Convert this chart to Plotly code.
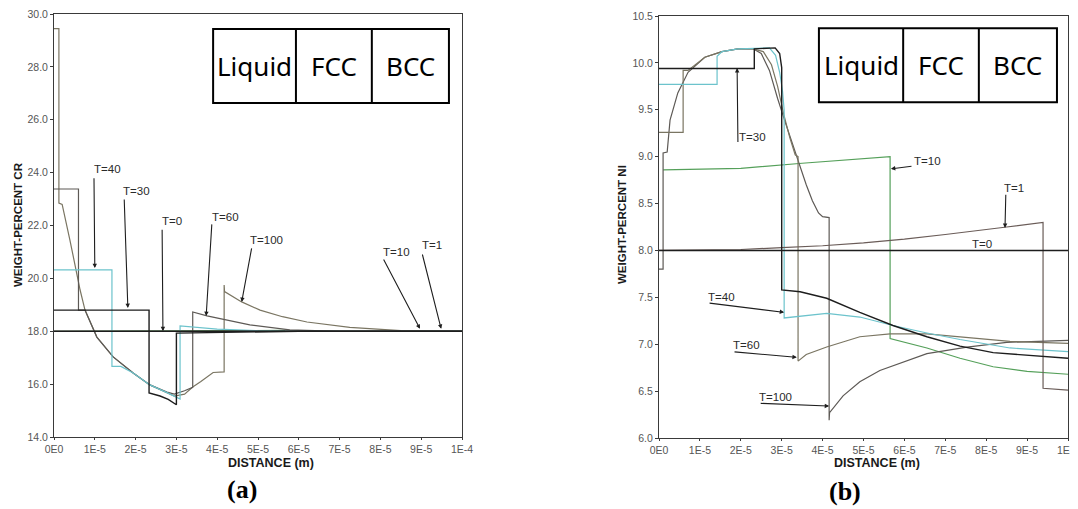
import plotly.graph_objects as go

U = 1e-5  # the distance lists below are in units of 1E-5 m

# ---------------- (a) WEIGHT-PERCENT CR ----------------
cr_t0_x = [0, 10]
cr_t0_y = [18.0, 18.0]
cr_t1_x = [0, 9.39, 9.39, 10]
cr_t1_y = [18.0, 18.02, 18.0, 18.0]
cr_t10_x = [0, 5.65, 5.65, 10]
cr_t10_y = [18.0, 18.03, 18.0, 18.0]
cr_t30_x = [0, 2.33, 2.33, 2.6, 2.8, 3.0, 3.0, 4.0, 5.0, 6.0, 10]
cr_t30_y = [18.8, 18.8, 15.67, 15.55, 15.42, 15.22, 17.93, 17.95, 17.98, 18.0, 18.0]
cr_t40_x = [0, 1.42, 1.42, 1.64, 1.94, 2.35, 2.77, 3.06, 3.09, 3.09, 3.5, 4.0, 5.0, 6.0, 10]
cr_t40_y = [20.32, 20.32, 16.67, 16.67, 16.42, 15.97, 15.68, 15.44, 15.44, 18.2, 18.15, 18.08, 18.02, 18.0, 18.0]
cr_t60_x = [0, 0.6, 0.6, 0.76, 1.05, 1.45, 1.94, 2.35, 2.77, 2.95, 3.2, 3.4, 3.4, 3.75, 4.8, 5.78, 7.0, 10]
cr_t60_y = [23.38, 23.38, 18.8, 18.8, 17.78, 17.03, 16.42, 15.97, 15.7, 15.62, 15.75, 15.88, 18.73, 18.58, 18.24, 18.05, 18.0, 18.0]
cr_t100_x = [0, 0.12, 0.12, 0.2, 0.39, 0.64, 0.76, 1.05, 1.45, 1.94, 2.35, 2.77, 2.95, 3.2, 3.4,
             3.6, 3.9, 4.17, 4.17, 4.18, 4.6, 5.05, 5.6, 6.2, 7.25, 8.5, 10]
cr_t100_y = [29.45, 29.45, 22.85, 22.8, 21.45, 19.56, 18.8, 17.78, 17.03, 16.42, 15.97, 15.68, 15.55, 15.62, 15.89,
             16.1, 16.44, 16.46, 19.75, 19.5, 19.11, 18.8, 18.55, 18.35, 18.15, 18.02, 18.0]

# ---------------- (b) WEIGHT-PERCENT NI ----------------
ni_t0_x = [0, 10]
ni_t0_y = [8.0, 8.0]
ni_t1_x = [0, 2.0, 3.0, 4.0, 5.0, 6.0, 7.0, 8.0, 8.5, 9.39, 9.39, 10]
ni_t1_y = [8.0, 8.01, 8.03, 8.05, 8.08, 8.12, 8.17, 8.22, 8.25, 8.3, 6.53, 6.51]
ni_t10_x = [0.1, 2.0, 3.5, 5.65, 5.65, 6.55, 7.36, 8.17, 9.0, 10]
ni_t10_y = [8.86, 8.875, 8.93, 9.0, 7.06, 6.96, 6.85, 6.76, 6.71, 6.68]
ni_t30_x = [0, 2.33, 2.33, 2.84, 2.95, 3.0, 3.0, 3.45, 4.1, 4.91, 5.72, 6.55, 7.36, 8.17, 10]
ni_t30_y = [9.94, 9.94, 10.15, 10.16, 10.1, 9.95, 7.58, 7.56, 7.49, 7.34, 7.2, 7.08, 6.98, 6.91, 6.85]
ni_t40_x = [0, 1.42, 1.42, 1.54, 1.93, 2.7, 2.85, 2.95, 3.02, 3.06, 3.06, 3.5, 4.1, 4.91, 5.72, 6.55, 7.36, 8.58, 10]
ni_t40_y = [9.77, 9.77, 10.07, 10.12, 10.15, 10.16, 10.08, 9.9, 9.7, 9.5, 7.28, 7.3, 7.33, 7.29, 7.2, 7.12, 7.05, 6.96, 6.92]
ni_t60_x = [0, 0.59, 0.59, 0.71, 1.12, 1.54, 1.93, 2.3, 2.55, 2.75, 2.9, 3.05, 3.2, 3.33, 3.4, 3.4,
            3.6, 4.1, 4.91, 5.65, 6.55, 7.36, 8.58, 10]
ni_t60_y = [9.26, 9.26, 9.92, 9.92, 10.06, 10.12, 10.15, 10.15, 10.12, 9.98, 9.75, 9.45, 9.2, 9.02, 9.0, 6.82,
            6.89, 6.97, 7.08, 7.11, 7.11, 7.08, 7.03, 7.01]
ni_t100_x = [0, 0.1, 0.1, 0.2, 0.27, 0.46, 0.71, 1.12, 1.54, 1.93, 2.3, 2.5, 2.7, 2.9, 3.1, 3.25, 3.4, 3.6,
             3.75, 3.9, 4.0, 4.16, 4.16, 4.17, 4.5, 4.91, 5.4, 5.89, 6.55, 7.53, 8.5, 10]
ni_t100_y = [7.8, 7.8, 9.04, 9.05, 9.39, 9.68, 9.9, 10.06, 10.12, 10.15, 10.15, 10.1, 9.92, 9.62, 9.35, 9.15, 8.95, 8.7,
             8.53, 8.4, 8.36, 8.35, 6.19, 6.27, 6.45, 6.6, 6.72, 6.8, 6.9, 6.97, 7.02, 7.04]

x_tick_vals = [0, 1, 2, 3, 4, 5, 6, 7, 8, 9, 10]
x_tick_text = ["0E0", "1E-5", "2E-5", "3E-5", "4E-5", "5E-5", "6E-5", "7E-5", "8E-5", "9E-5", "1E-4"]
cr_tick_vals = [14, 16, 18, 20, 22, 24, 26, 28, 30]
ni_tick_vals = [6.0, 6.5, 7.0, 7.5, 8.0, 8.5, 9.0, 9.5, 10.0, 10.5]
phase_names = ["Liquid", "FCC", "BCC"]

BLACK = "#1d1d1d"
CYAN = "#6cc3cc"
GRAY60 = "#5d5955"
OLIVE = "#7a7562"
BROWN = "#6a5c58"
GREEN = "#55a05a"

fig = go.Figure()


def add(xs, ys, color, axis, width=1.2):
    fig.add_trace(go.Scatter(
        x=[v * U for v in xs], y=ys, mode="lines",
        line=dict(color=color, width=width),
        xaxis="x" if axis == 1 else "x2", yaxis="y" if axis == 1 else "y2",
        showlegend=False, hoverinfo="skip"))


# panel (a)
add(cr_t10_x, cr_t10_y, GREEN, 1)
add(cr_t100_x, cr_t100_y, OLIVE, 1)
add(cr_t60_x, cr_t60_y, GRAY60, 1)
add(cr_t40_x, cr_t40_y, CYAN, 1)
add(cr_t1_x, cr_t1_y, BROWN, 1)
add(cr_t30_x, cr_t30_y, BLACK, 1, 1.4)
add(cr_t0_x, cr_t0_y, BLACK, 1, 1.4)
# panel (b)
add(ni_t10_x, ni_t10_y, GREEN, 2)
add(ni_t100_x, ni_t100_y, GRAY60, 2)
add(ni_t60_x, ni_t60_y, OLIVE, 2)
add(ni_t40_x, ni_t40_y, CYAN, 2)
add(ni_t1_x, ni_t1_y, BROWN, 2)
add(ni_t30_x, ni_t30_y, BLACK, 2, 1.4)
add(ni_t0_x, ni_t0_y, BLACK, 2, 1.4)

# the page body has an 8px margin, so the figure is drawn 8px in from the window edge
OFF = 8
W, H = 1078 - OFF, 509 - OFF


def px(v):
    return (v - OFF) / W


def py(v):
    return 1 - (v - OFF) / H


axis_common = dict(showgrid=False, zeroline=False, showline=True, linecolor="#3a3a3a", linewidth=1,
                   mirror=True, ticks="outside", tickcolor="#3a3a3a", automargin=False,
                   ticklabeloverflow="allow",
                   tickfont=dict(family="Arial, Liberation Sans", size=10.5, color="#555555"))

fig.update_layout(
    width=W, height=H, margin=dict(l=0, r=0, t=0, b=0, autoexpand=False),
    paper_bgcolor="white", plot_bgcolor="white",
    xaxis=dict(domain=[px(54), px(462)], range=[0, 10 * U], anchor="y", ticklen=2,
               tickvals=[v * U for v in x_tick_vals], ticktext=x_tick_text, **axis_common),
    yaxis=dict(domain=[py(437), py(14)], range=[14, 30], anchor="x", ticklen=3,
               tickvals=cr_tick_vals, ticktext=[f"{v:.1f}" for v in cr_tick_vals], **axis_common),
    xaxis2=dict(domain=[px(659), px(1068)], range=[0, 10 * U], anchor="y2", ticklen=2,
                tickvals=[v * U for v in x_tick_vals], ticktext=x_tick_text, **axis_common),
    yaxis2=dict(domain=[py(438), py(16)], range=[6.0, 10.5], anchor="x2", ticklen=3,
                tickvals=ni_tick_vals, ticktext=[f"{v:.1f}" for v in ni_tick_vals], **axis_common),
)

# phase boxes
shapes = []
boxes = [("x", "y", [3.90, 5.93, 7.79, 9.68], 26.63, 29.43),
         ("x2", "y2", [3.91, 5.97, 7.82, 9.73], 9.58, 10.37)]
annotations = []
for xr, yr, xs, y0, y1 in boxes:
    shapes.append(dict(type="rect", xref=xr, yref=yr, x0=xs[0] * U, x1=xs[-1] * U, y0=y0, y1=y1,
                       line=dict(color="black", width=2), fillcolor="white", layer="above"))
    for xv in xs[1:-1]:
        shapes.append(dict(type="line", xref=xr, yref=yr, x0=xv * U, x1=xv * U, y0=y0, y1=y1,
                           line=dict(color="black", width=2), layer="above"))
    for i, name in enumerate(phase_names):
        annotations.append(dict(xref=xr, yref=yr, x=(xs[i] + xs[i + 1]) / 2 * U, y=(y0 + y1) / 2,
                                text=name, showarrow=False, xanchor="center", yanchor="middle",
                                font=dict(family="Noto Sans", size=26, color="black")))

# T labels: (axis, text, text_x, text_y, tail_x, tail_y, head_x, head_y)
labels = [
    (1, "T=40", 0.93, 24.14, 0.98, 23.84, 1.0, 20.39),
    (1, "T=30", 1.64, 23.29, 1.72, 23.04, 1.81, 18.88),
    (1, "T=0", 2.60, 22.17, 2.65, 21.9, 2.67, 18.0),
    (1, "T=60", 3.82, 22.32, 3.87, 22.1, 3.73, 18.58),
    (1, "T=100", 4.75, 21.45, 4.85, 21.19, 4.6, 19.11),
    (1, "T=10", 8.01, 20.98, 8.06, 20.77, 8.97, 18.09),
    (1, "T=1", 8.97, 21.26, 9.02, 20.96, 9.49, 18.09),
    (2, "T=30", 1.91, 9.21, 1.93, 9.14, 1.91, 9.945),
    (2, "T=10", 6.19, 8.95, 6.21, 8.9, 5.67, 8.87),
    (2, "T=1", 8.39, 8.67, 8.48, 8.61, 8.46, 8.24),
    (2, "T=0", 7.60, 8.07, None, None, None, None),
    (2, "T=40", 1.15, 7.50, 1.2, 7.44, 3.06, 7.34),
    (2, "T=60", 1.76, 6.99, 1.81, 6.92, 3.37, 6.86),
    (2, "T=100", 2.40, 6.44, 2.45, 6.37, 4.16, 6.34),
]
for ax, txt, tx, ty, ax0, ay0, hx, hy in labels:
    xr = "x" if ax == 1 else "x2"
    yr = "y" if ax == 1 else "y2"
    annotations.append(dict(xref=xr, yref=yr, x=tx * U, y=ty, text=txt, showarrow=False,
                            xanchor="left", yanchor="middle",
                            font=dict(family="Arial, Liberation Sans", size=11.5, color="#2a2a2a")))
    if hx is not None:
        annotations.append(dict(xref=xr, yref=yr, x=hx * U, y=hy, axref=xr, ayref=yr,
                                ax=ax0 * U, ay=ay0, text="", showarrow=True,
                                arrowhead=2, arrowsize=0.8, arrowwidth=1.1, arrowcolor="#1e1e1e"))

# axis titles and panel letters
title_font = dict(family="Arial, Liberation Sans", size=11.5, color="#1a1a1a")
dist_font = dict(family="Arial, Liberation Sans", size=12.5, color="#1a1a1a")
letter_font = dict(family="Liberation Serif, Times New Roman", size=26, color="black")
centered = dict(xref="paper", yref="paper", showarrow=False, xanchor="center", yanchor="middle")
annotations += [
    dict(x=px(18), y=py(225), text="<b>WEIGHT-PERCENT CR</b>", textangle=-90, font=title_font, **centered),
    dict(x=px(271), y=py(463), text="<b>DISTANCE (m)</b>", font=dist_font, **centered),
    dict(x=px(622), y=py(225), text="<b>WEIGHT-PERCENT NI</b>", textangle=-90, font=title_font, **centered),
    dict(x=px(877), y=py(463), text="<b>DISTANCE (m)</b>", font=dist_font, **centered),
    dict(x=px(242), y=py(489), text="<b>(a)</b>", font=letter_font, **centered),
    dict(x=px(845), y=py(491), text="<b>(b)</b>", font=letter_font, **centered),
]

fig.update_layout(shapes=shapes, annotations=annotations)
fig.write_html("out.html")
